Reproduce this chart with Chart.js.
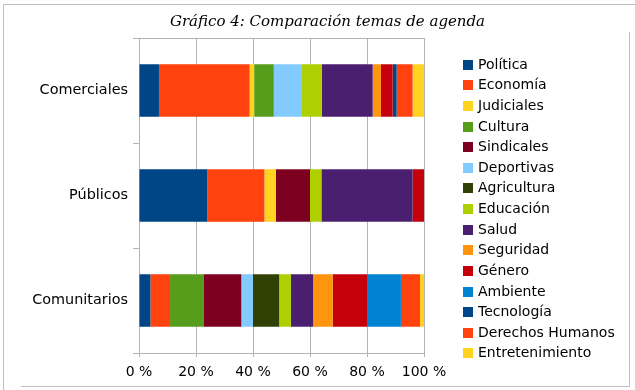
<!DOCTYPE html>
<html>
<head>
<meta charset="utf-8">
<script src="https://cdn.jsdelivr.net/npm/chart.js@4/dist/chart.umd.min.js"></script>
<style>
  body { margin: 0; background: #fff; }
  #wrap { position: relative; width: 635px; height: 390px; font-family: "DejaVu Sans", sans-serif; }
  #grafico { position: absolute; left: 0; top: 0; }
  .ln { position: absolute; background: #c0c0c0; }
  #titulo { position: absolute; left: 20px; width: 615px; top: 12px; line-height: 18px; text-align: center;
            font-family: "DejaVu Serif", serif; font-style: italic; font-size: 15px; color: #000; }
  #leyenda { position: absolute; left: 463px; top: 53.7px; }
  #leyenda div { height: 20.64px; line-height: 20.64px; font-size: 14px; color: #000; white-space: nowrap; }
  #leyenda span { display: inline-block; width: 10px; height: 10px; margin-right: 5px; vertical-align: -1px; }
</style>
</head>
<body>
<div id="wrap">
  <canvas id="grafico" width="635" height="390"></canvas>
  <div id="titulo">Gráfico 4: Comparación temas de agenda</div>
  <div id="leyenda"></div>
  <!-- page frame lines around the chart -->
  <div class="ln" style="left:3px; top:4px; width:632px; height:1px;"></div>
  <div class="ln" style="left:3px; top:4px; width:1px; height:386px;"></div>
  <div class="ln" style="left:629px; top:32px; width:1px; height:355px;"></div>
  <div class="ln" style="left:21px; top:386px; width:609px; height:1px;"></div>
</div>
<script>
// categories (bars) and topics (stacked segments)
var categorias = ['Comerciales', 'Públicos', 'Comunitarios'];
var temas = ['Política', 'Economía', 'Judiciales', 'Cultura', 'Sindicales', 'Deportivas',
  'Agricultura', 'Educación', 'Salud', 'Seguridad', 'Género', 'Ambiente',
  'Tecnología', 'Derechos Humanos', 'Entretenimiento'];

// percent of each topic, one array per category (same order as temas)
var comerciales  = [7.0, 31.8, 1.6, 6.9, 0, 9.9, 0, 6.9, 17.9, 2.9, 4.1, 0, 1.4, 5.6, 4.0];
var publicos     = [24.0, 20.0, 4.0, 0, 12.0, 0, 0, 4.0, 32.0, 0, 4.0, 0, 0, 0, 0];
var comunitarios = [4.0, 6.9, 0, 11.9, 13.1, 4.1, 9.2, 4.1, 7.8, 6.9, 12.0, 11.9, 0, 6.7, 1.4];

// x axis ticks
var ticksX = [0, 20, 40, 60, 80, 100];

var colores = ['#004586', '#ff420e', '#ffd320', '#579d1c', '#7e0021', '#83caff',
  '#314004', '#aecf00', '#4b1f6f', '#ff950e', '#c5000b', '#0084d1',
  '#004586', '#ff420e', '#ffd320'];

var gris = '#b3b3b3';

var datasets = temas.map(function (t, i) {
  return {
    label: t,
    data: [comerciales[i], publicos[i], comunitarios[i]],
    backgroundColor: colores[i],
    borderWidth: 0,
    categoryPercentage: 0.5,
    barPercentage: 1.0
  };
});

Chart.defaults.font.family = '"DejaVu Sans", sans-serif';
Chart.defaults.color = '#000';

var chart = new Chart(document.getElementById('grafico').getContext('2d'), {
  type: 'bar',
  data: { labels: categorias, datasets: datasets },
  options: {
    indexAxis: 'y',
    responsive: false,
    animation: false,
    layout: { padding: { left: 20, right: 211, top: 38, bottom: 9 } },
    plugins: {
      legend: { display: false },
      tooltip: { enabled: false }
    },
    scales: {
      x: {
        stacked: true,
        min: 0,
        max: 100,
        afterBuildTicks: function (axis) {
          axis.ticks = ticksX.map(function (v) { return { value: v }; });
        },
        afterFit: function (axis) { axis.height = 28; },
        ticks: {
          font: { size: 14 },
          padding: 7,
          maxRotation: 0,
          callback: function (v) { return v + ' %'; }
        },
        grid: { color: gris, tickLength: 4, lineWidth: 1 },
        border: { color: gris }
      },
      y: {
        stacked: true,
        afterFit: function (axis) { axis.width = 119; },
        ticks: { font: { size: 14.4 }, padding: 5 },
        grid: {
          offset: true,
          tickLength: 6,
          color: function (ctx) { return ctx.index === 0 ? gris : 'transparent'; },
          tickColor: gris
        },
        border: { color: gris }
      }
    }
  }
});

// legend on the right, built from the chart datasets
var ley = document.getElementById('leyenda');
chart.data.datasets.forEach(function (ds) {
  var fila = document.createElement('div');
  var caja = document.createElement('span');
  caja.style.background = ds.backgroundColor;
  fila.appendChild(caja);
  fila.appendChild(document.createTextNode(ds.label));
  ley.appendChild(fila);
});
</script>
</body>
</html>
